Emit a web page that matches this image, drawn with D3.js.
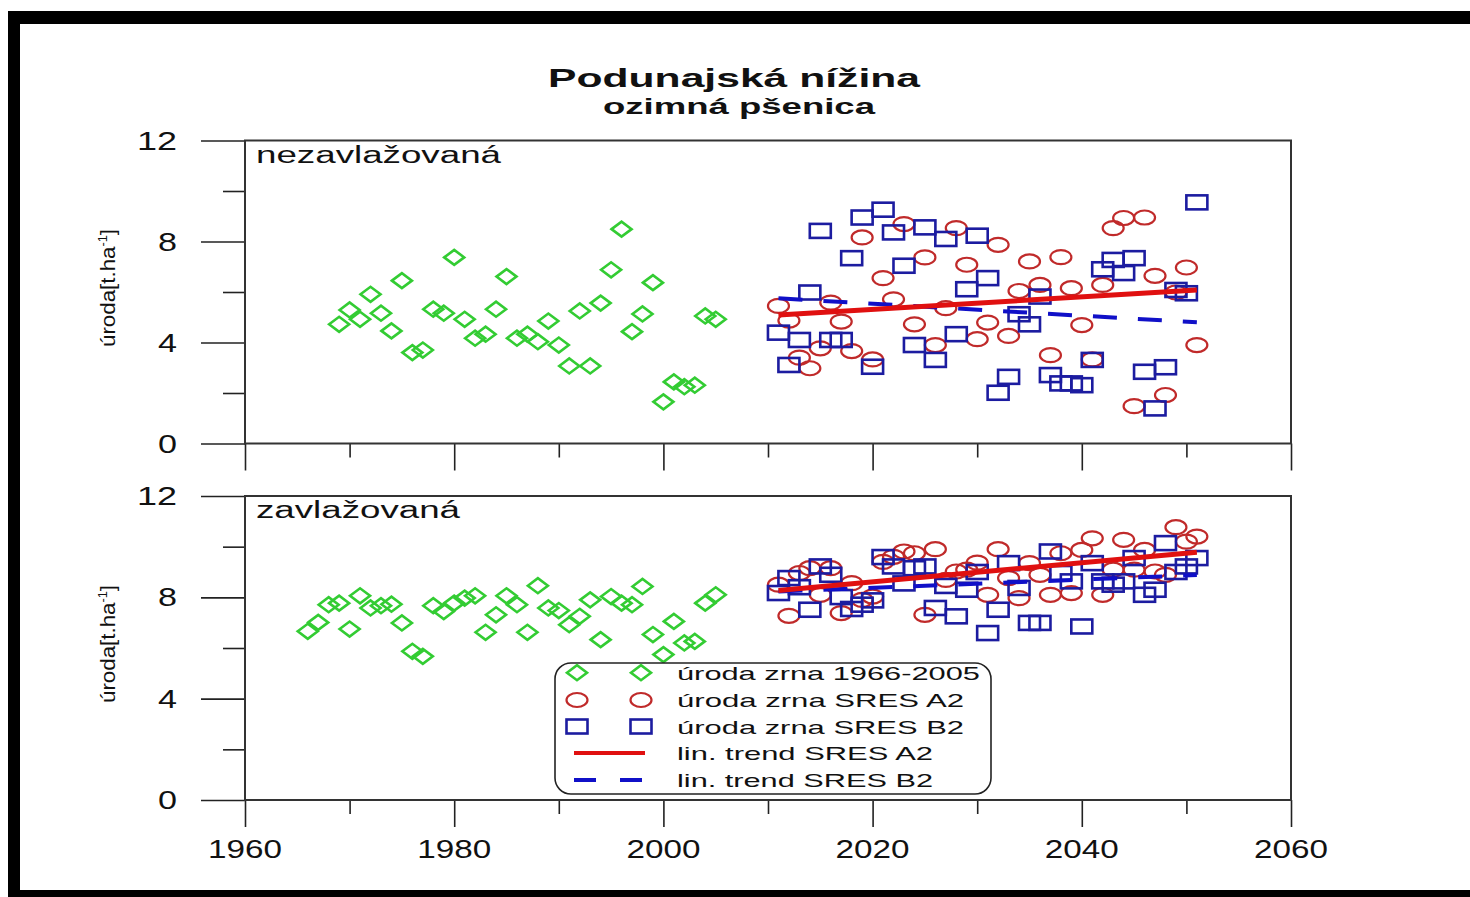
<!DOCTYPE html>
<html>
<head>
<meta charset="utf-8">
<script src="https://cdn.jsdelivr.net/npm/d3@7"></script>
<style>
  body { margin: 0; background: #fff; }
  svg { display: block; }
  text { font-family: "Liberation Sans", Arial, sans-serif; fill: #111; }
</style>
</head>
<body>
<div id="chart"></div>
<script>
// ---- data ----
var histYearsTop = d3.range(1969, 2006);   // 1969..2005 (non irrigated, 1966-68 missing)
var histYearsBot = d3.range(1966, 2006);   // 1966..2005
var scenYears = d3.range(2011, 2052);      // 2011..2051

var histTop = [4.72, 5.29, 4.92, 5.91, 5.16, 4.46, 6.45, 3.60, 3.70, 5.32,
               5.16, 7.37, 4.92, 4.17, 4.33, 5.32, 6.61, 4.17, 4.33, 4.03,
               4.85, 3.90, 3.07, 5.25, 3.07, 5.56, 6.88, 8.49, 4.43, 5.13,
               6.37, 1.65, 2.44, 2.25, 2.31, 5.05, 4.92];
var a2Top = [5.45, 4.87, 3.40, 2.98, 3.77, 5.58, 4.83, 3.66, 8.16, 3.33,
             6.55, 5.71, 8.69, 4.72, 7.37, 3.90, 5.36, 8.53, 7.08, 4.13,
             4.79, 7.87, 4.26, 6.04, 7.21, 6.28, 3.50, 7.38, 6.15, 4.69,
             3.33, 6.28, 8.53, 8.93, 1.48, 8.95, 6.64, 1.92, 5.98, 6.97, 3.90];
var b2Top = [4.39, 3.11, 4.10, 5.98, 8.42, 4.10, 4.10, 7.34, 8.95, 3.04,
             9.26, 8.36, 7.04, 3.90, 8.56, 3.31, 8.10, 4.33, 6.11, 8.23,
             6.55, 2.01, 2.64, 5.12, 4.72, 5.82, 2.71, 2.38, 2.38, 2.31,
             3.31, 6.90, 7.27, 6.75, 7.34, 2.84, 1.39, 3.02, 6.08, 5.95, 9.55];
var trendA2Top = [[2011, 5.09], [2051, 6.08]];
var trendB2Top = [[2011, 5.75], [2051, 4.80]];

var histBot = [6.66, 7.01, 7.71, 7.77, 6.75, 8.06, 7.58, 7.67, 7.73, 6.99,
               5.87, 5.67, 7.67, 7.44, 7.77, 7.97, 8.06, 6.62, 7.31, 8.06,
               7.71, 6.62, 8.46, 7.58, 7.48, 6.92, 7.25, 7.90, 6.33, 8.03,
               7.77, 7.71, 8.43, 6.53, 5.74, 7.05, 6.20, 6.26, 7.77, 8.10];
var a2Bot = [8.50, 7.27, 8.96, 9.15, 8.10, 9.15, 7.38, 8.56, 7.90, 8.03,
             9.40, 9.60, 9.81, 9.74, 7.31, 9.90, 8.69, 9.02, 9.09, 9.37,
             8.10, 9.90, 8.76, 7.97, 9.35, 8.89, 8.10, 9.74, 8.17, 9.87,
             10.33, 8.10, 9.09, 10.27, 9.09, 9.87, 9.02, 8.89, 10.77, 10.20, 10.40];
var b2Bot = [8.17, 8.76, 8.40, 7.51, 9.22, 8.89, 8.01, 7.54, 7.71, 7.88,
             9.59, 9.22, 8.55, 9.15, 9.22, 7.58, 8.45, 7.25, 8.30, 9.00,
             6.59, 7.51, 9.35, 8.37, 6.99, 6.99, 9.81, 8.96, 8.63, 6.85,
             9.35, 8.63, 8.50, 8.63, 9.55, 8.10, 8.30, 10.14, 9.00, 9.22, 9.55];
var trendA2Bot = [[2011, 8.27], [2051, 9.78]];
var trendB2Bot = [[2011, 8.23], [2051, 8.88]];

var yMajor = [0, 4, 8, 12], yMinor = [2, 6, 10];
var xMajor = [1960, 1980, 2000, 2020, 2040, 2060];
var xMinor = [1970, 1990, 2010, 2030, 2050];
var legendLabels = ["úroda zrna 1966-2005", "úroda zrna SRES A2", "úroda zrna SRES B2",
                    "lin. trend SRES A2", "lin. trend SRES B2"];

// ---- colours ----
var cGreen = "#33cc33", cCircle = "#c02a2a", cSquare = "#1c1ca0",
    cTrendA2 = "#e01010", cTrendB2 = "#1010c8";

var W = 1470, H = 897;
var svg = d3.select("#chart").append("svg").attr("width", W).attr("height", H);

// black picture frame
svg.append("rect").attr("x", 8).attr("y", 11).attr("width", W).attr("height", H).attr("fill", "#000");
svg.append("rect").attr("x", 20).attr("y", 24).attr("width", W).attr("height", 866).attr("fill", "#fff");

var x = d3.scaleLinear().domain([1960, 2060]).range([245, 1291]);

// text squeezed/stretched to a given width (the picture is stretched sideways)
function txt(g, px, py, s, size, len, anchor, weight) {
  return g.append("text")
    .attr("x", px).attr("y", py)
    .attr("font-size", size)
    .attr("font-weight", weight || "normal")
    .attr("text-anchor", anchor || "start")
    .attr("textLength", len)
    .attr("lengthAdjust", "spacingAndGlyphs")
    .text(s);
}

// titles
txt(svg, 734, 87, "Podunajská nížina", 26, 372, "middle", "bold");
txt(svg, 739, 114, "ozimná pšenica", 22, 272, "middle", "bold");

function diamond(g, cx, cy) {
  g.append("path")
    .attr("d", "M" + (cx - 10) + "," + cy + "L" + cx + "," + (cy - 7.5) + "L" + (cx + 10) + "," + cy + "L" + cx + "," + (cy + 7.5) + "Z")
    .attr("fill", "none").attr("stroke", cGreen).attr("stroke-width", 2.6);
}
function circ(g, cx, cy) {
  g.append("ellipse").attr("cx", cx).attr("cy", cy).attr("rx", 10.5).attr("ry", 7)
    .attr("fill", "none").attr("stroke", cCircle).attr("stroke-width", 2.2);
}
function sq(g, cx, cy) {
  g.append("rect").attr("x", cx - 10.5).attr("y", cy - 7).attr("width", 21).attr("height", 14)
    .attr("fill", "none").attr("stroke", cSquare).attr("stroke-width", 2.6);
}

function panel(top, bottom, label, labelLen, hYears, hist, a2, b2, tA2, tB2, showX) {
  var y = d3.scaleLinear().domain([0, 12]).range([bottom, top]);
  var g = svg.append("g");

  // y axis, major + minor ticks outward
  g.append("g").attr("transform", "translate(245,0)")
    .call(d3.axisLeft(y).tickValues(yMinor).tickSize(22).tickSizeOuter(0).tickFormat(""))
    .call(function(a) { a.select(".domain").remove(); });
  var ya = g.append("g").attr("transform", "translate(245,0)")
    .call(d3.axisLeft(y).tickValues(yMajor).tickSize(44).tickSizeOuter(0).tickFormat(""));
  ya.select(".domain").remove();
  g.selectAll(".tick line").attr("stroke", "#222").attr("stroke-width", 1.6);

  yMajor.forEach(function(v) {
    txt(g, 177, y(v) + 9, String(v), 25, v >= 10 ? 40 : 19, "end");
  });

  // x axis ticks below the panel
  var xa = g.append("g").attr("transform", "translate(0," + bottom + ")")
    .call(d3.axisBottom(x).tickValues(xMajor).tickSize(27).tickSizeOuter(0).tickFormat(""));
  xa.select(".domain").remove();
  var xm = g.append("g").attr("transform", "translate(0," + bottom + ")")
    .call(d3.axisBottom(x).tickValues(xMinor).tickSize(14).tickSizeOuter(0).tickFormat(""));
  xm.select(".domain").remove();
  g.selectAll(".tick line").attr("stroke", "#222").attr("stroke-width", 1.6);

  if (showX) {
    xMajor.forEach(function(v) {
      txt(g, x(v), bottom + 58, String(v), 25, 74, "middle");
    });
  }

  // frame: left, bottom, top, right
  g.append("path")
    .attr("d", "M245," + top + "V" + bottom + "H1291V" + top + "Z")
    .attr("fill", "none").attr("stroke", "#333").attr("stroke-width", 2);

  txt(g, 256, top + 22, label, 23, labelLen, "start");

  // y label
  var yl = g.append("text")
    .attr("transform", "translate(115," + ((top + bottom) / 2 - 4) + ") rotate(-90)")
    .attr("font-size", 21).attr("text-anchor", "middle")
    .attr("textLength", 118).attr("lengthAdjust", "spacingAndGlyphs");
  yl.append("tspan").text("úroda[t.ha");
  yl.append("tspan").attr("font-size", 12).attr("dy", -8).text("-1");
  yl.append("tspan").attr("dy", 8).text("]");

  // marks
  var mk = g.append("g");
  hist.forEach(function(v, i) { diamond(mk, x(hYears[i]), y(v)); });
  a2.forEach(function(v, i) { circ(mk, x(scenYears[i]), y(v)); });
  b2.forEach(function(v, i) { sq(mk, x(scenYears[i]), y(v)); });

  var line = d3.line().x(function(d) { return x(d[0]); }).y(function(d) { return y(d[1]); });
  g.append("path").datum(tB2).attr("d", line)
    .attr("fill", "none").attr("stroke", cTrendB2).attr("stroke-width", 4)
    .attr("stroke-dasharray", "24,21");
  g.append("path").datum(tA2).attr("d", line)
    .attr("fill", "none").attr("stroke", cTrendA2).attr("stroke-width", 5);
}

panel(140.5, 443.5, "nezavlažovaná", 245, histYearsTop, histTop, a2Top, b2Top, trendA2Top, trendB2Top, false);
panel(496, 800, "zavlažovaná", 204, histYearsBot, histBot, a2Bot, b2Bot, trendA2Bot, trendB2Bot, true);

// legend
var lg = svg.append("g");
lg.append("rect").attr("x", 555).attr("y", 663).attr("width", 436).attr("height", 131)
  .attr("rx", 16).attr("ry", 16)
  .attr("fill", "#fff").attr("stroke", "#222").attr("stroke-width", 1.6);
var rowY = [672.7, 700, 726.5, 753, 780];
var textLens = [303, 287, 287, 256, 256];
var sx1 = 577, sx2 = 641;
diamond(lg, sx1, rowY[0]); diamond(lg, sx2, rowY[0]);
circ(lg, sx1, rowY[1]); circ(lg, sx2, rowY[1]);
sq(lg, sx1, rowY[2]); sq(lg, sx2, rowY[2]);
lg.append("line").attr("x1", 574).attr("x2", 645).attr("y1", rowY[3]).attr("y2", rowY[3])
  .attr("stroke", cTrendA2).attr("stroke-width", 4);
lg.append("line").attr("x1", 574).attr("x2", 645).attr("y1", rowY[4]).attr("y2", rowY[4])
  .attr("stroke", cTrendB2).attr("stroke-width", 4).attr("stroke-dasharray", "22,24");
legendLabels.forEach(function(s, i) {
  txt(lg, 677, rowY[i] + 7, s, 19, textLens[i], "start");
});
</script>
</body>
</html>
